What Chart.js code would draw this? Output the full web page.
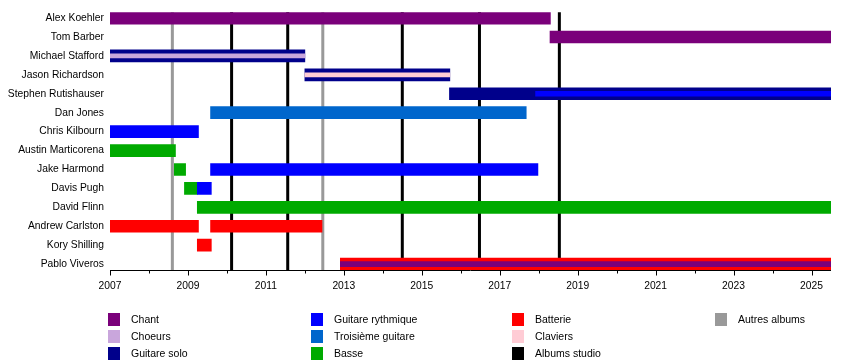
<!DOCTYPE html>
<html>
<head>
<meta charset="utf-8">
<script src="https://cdn.jsdelivr.net/npm/chart.js@4/dist/chart.umd.min.js"></script>
<style>
  html, body { margin: 0; padding: 0; background: #fff; }
  #wrap { position: relative; width: 850px; height: 360px; overflow: hidden; }
  #c { position: absolute; left: 0; top: 0; }
  .lg { position: absolute; font-family: "Liberation Sans", Arial, sans-serif; font-size: 10.5px; color: #000; white-space: nowrap; line-height: 13px; }
  .sw { position: absolute; width: 12px; height: 13px; }
</style>
</head>
<body>
<div id="wrap">
  <canvas id="c" width="850" height="360"></canvas>
</div>
<script>
// ---------- data ----------
const members = ["Alex Koehler", "Tom Barber", "Michael Stafford", "Jason Richardson",
  "Stephen Rutishauser", "Dan Jones", "Chris Kilbourn", "Austin Marticorena",
  "Jake Harmond", "Davis Pugh", "David Flinn", "Andrew Carlston", "Kory Shilling", "Pablo Viveros"];

const START = 2007;
const END = 2025.5;

const chant = [["Alex Koehler", 2007, 2018.3], ["Tom Barber", 2018.29, END]];
const guitareSolo = [["Michael Stafford", 2007, 2012.0], ["Jason Richardson", 2012.0, 2015.72],
  ["Stephen Rutishauser", 2015.71, END]];
const guitareRythmique = [["Chris Kilbourn", 2007, 2009.27], ["Jake Harmond", 2009.58, 2017.98],
  ["Davis Pugh", 2009.24, 2009.6]];
const troisiemeGuitare = [["Dan Jones", 2009.58, 2017.68]];
const basse = [["Austin Marticorena", 2007, 2008.68], ["Jake Harmond", 2008.65, 2008.94],
  ["Davis Pugh", 2008.91, 2009.24], ["David Flinn", 2009.24, END]];
const batterie = [["Andrew Carlston", 2007, 2009.27], ["Andrew Carlston", 2009.58, 2012.44],
  ["Kory Shilling", 2009.24, 2009.6], ["Pablo Viveros", 2012.91, END]];
// secondary roles (thin inner stripes)
const choeursInner = [["Michael Stafford", 2007, 2012.0]];
const claviersInner = [["Jason Richardson", 2012.0, 2015.72]];
const rythmiqueInner = [["Stephen Rutishauser", 2017.92, END]];
const chantInner = [["Pablo Viveros", 2012.91, END]];

const studioAlbums = [2010.12, 2011.56, 2014.5, 2016.48, 2018.53];
const otherAlbums = [2008.6, 2012.46];

const tickYears = [2007, 2008, 2009, 2010, 2011, 2012, 2013, 2014, 2015, 2016, 2017, 2018, 2019, 2020, 2021, 2022, 2023, 2024, 2025];
const tickLabels = ["2007", "", "2009", "", "2011", "", "2013", "", "2015", "", "2017", "", "2019", "", "2021", "", "2023", "", "2025"];

const legendLabels = ["Chant", "Choeurs", "Guitare solo", "Guitare rythmique", "Troisième guitare", "Basse",
  "Batterie", "Claviers", "Albums studio", "Autres albums"];
const legendColors = ["#7a007a", "#c9a6dc", "#00008b", "#0000ff", "#0066cc", "#00aa00",
  "#ff0000", "#ffccd5", "#000000", "#999999"];

// ---------- helpers ----------
const col = name => legendColors[legendLabels.indexOf(name)];
const toData = arr => arr.map(([m, s, e]) => ({ x: [s, e], y: members.indexOf(m) }));

function ds(label, arr, color, thick, order) {
  return { label, data: toData(arr), backgroundColor: color, borderWidth: 0,
    barThickness: thick, grouped: false, order };
}

const datasets = [
  ds("Choeurs", choeursInner, col("Choeurs"), 4, 0),
  ds("Claviers", claviersInner, col("Claviers"), 4, 0),
  ds("Guitare rythmique (2)", rythmiqueInner, col("Guitare rythmique"), 5, 0),
  ds("Chant (2)", chantInner, col("Chant"), 5, 0),
  ds("Chant", chant, col("Chant"), 12, 1),
  ds("Guitare solo", guitareSolo, col("Guitare solo"), 12, 1),
  ds("Guitare rythmique", guitareRythmique, col("Guitare rythmique"), 12, 1),
  ds("Troisième guitare", troisiemeGuitare, col("Troisième guitare"), 12, 1),
  ds("Basse", basse, col("Basse"), 12, 1),
  ds("Batterie", batterie, col("Batterie"), 12, 1)
];

const FONT = { family: "'Liberation Sans', Arial, sans-serif", size: 10.3 };

const linesPlugin = {
  id: 'albumLines',
  beforeDatasetsDraw(chart) {
    const { ctx, chartArea: a, scales: { x } } = chart;
    ctx.save();
    ctx.lineWidth = 3;
    const draw = (vals, color) => {
      ctx.strokeStyle = color;
      vals.forEach(v => {
        const px = x.getPixelForValue(v);
        ctx.beginPath(); ctx.moveTo(px, a.top); ctx.lineTo(px, a.bottom); ctx.stroke();
      });
    };
    draw(otherAlbums, col("Autres albums"));
    draw(studioAlbums, col("Albums studio"));
    ctx.restore();
  }
};

const axisPlugin = {
  id: 'axisLine',
  afterDatasetsDraw(chart) {
    const { ctx, chartArea: a, scales: { x } } = chart;
    ctx.save();
    ctx.strokeStyle = "#000";
    ctx.lineWidth = 1;
    const y = Math.round(a.bottom) + 0.5;
    ctx.beginPath(); ctx.moveTo(a.left, y); ctx.lineTo(a.right, y); ctx.stroke();
    tickYears.forEach((v, i) => {
      const px = Math.round(x.getPixelForValue(v)) + 0.5;
      const len = tickLabels[i] ? 5 : 3;
      ctx.beginPath(); ctx.moveTo(px, y); ctx.lineTo(px, y + len); ctx.stroke();
    });
    ctx.restore();
  }
};

new Chart(document.getElementById('c'), {
  type: 'bar',
  data: { datasets },
  options: {
    indexAxis: 'y',
    responsive: false,
    animation: false,
    events: [],
    layout: { padding: { top: 10, right: 19, left: 0, bottom: 0 } },
    plugins: { legend: { display: false }, tooltip: { enabled: false } },
    scales: {
      x: {
        type: 'linear', position: 'bottom', min: START, max: END, offset: false,
        afterBuildTicks: s => { s.ticks = tickYears.map(v => ({ value: v })); },
        afterFit: s => { s.height = 90; },
        ticks: { autoSkip: false, maxRotation: 0, padding: 10, color: "#000", font: FONT,
          callback: v => tickLabels[tickYears.indexOf(v)] },
        grid: { display: false, drawTicks: false, offset: false },
        border: { display: false }
      },
      y: {
        type: 'linear', reverse: true, offset: false,
        min: -0.31, max: members.length - 1 + 0.31,
        afterBuildTicks: s => { s.ticks = members.map((m, i) => ({ value: i })); },
        afterFit: s => { s.width = 110; },
        ticks: { autoSkip: false, padding: 6, color: "#000", font: FONT,
          callback: v => members[v] },
        grid: { display: false, drawTicks: false, offset: false },
        border: { display: false }
      }
    }
  },
  plugins: [linesPlugin, axisPlugin]
});

// ---------- legend (HTML, column-major, 3 rows) ----------
const legendColX = [108, 311, 512, 715];
const legendRowY = [319, 336, 353];
const wrap = document.getElementById('wrap');
legendLabels.forEach((lab, i) => {
  const c = Math.floor(i / 3), r = i % 3;
  const sw = document.createElement('div');
  sw.className = 'sw';
  sw.style.left = legendColX[c] + 'px';
  sw.style.top = (legendRowY[r] - 6.5) + 'px';
  sw.style.background = legendColors[i];
  wrap.appendChild(sw);
  const t = document.createElement('div');
  t.className = 'lg';
  t.style.left = (legendColX[c] + 23) + 'px';
  t.style.top = (legendRowY[r] - 6.5) + 'px';
  t.textContent = lab;
  wrap.appendChild(t);
});
</script>
</body>
</html>
